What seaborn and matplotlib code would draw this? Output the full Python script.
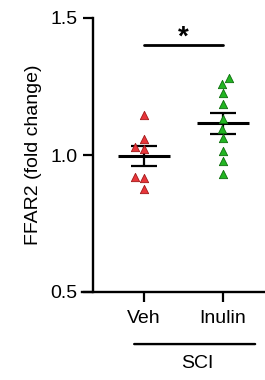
import numpy as np
import pandas as pd
import matplotlib
matplotlib.use("Agg")
import matplotlib.pyplot as plt
import seaborn as sns

# values
groups = ["Veh", "Inulin"]
veh_values = [1.146, 1.058, 1.029, 1.022, 0.920, 0.916, 0.876]
inulin_values = [1.281, 1.259, 1.226, 1.186, 1.131, 1.095, 1.062, 1.015, 0.978, 0.931]
group_colors = ["#e8353a", "#22b522"]
edge_colors = ["#a01818", "#0d6e0d"]
yticks = [0.5, 1.0, 1.5]

data = pd.DataFrame({
    "group": ["Veh"] * len(veh_values) + ["Inulin"] * len(inulin_values),
    "value": veh_values + inulin_values,
})

sns.set_style("ticks")
plt.rcParams["font.family"] = ["Liberation Sans", "DejaVu Sans"]
plt.rcParams["text.color"] = "black"
plt.rcParams["axes.labelcolor"] = "black"

fig = plt.figure(figsize=(2.65, 3.8), dpi=100)
ax = fig.add_axes([93 / 265, 88 / 380, 1 - 93 / 265, 274 / 380])

# mean and SEM lines
for i, g in enumerate(groups):
    vals = np.array(data.loc[data["group"] == g, "value"])
    m = vals.mean()
    sem = vals.std(ddof=1) / np.sqrt(len(vals))
    ax.hlines(m, i - 0.33, i + 0.33, color="black", lw=2.2, zorder=2)
    ax.hlines([m - sem, m + sem], i - 0.16, i + 0.16, color="black", lw=1.6, zorder=2)
    ax.vlines(i, m - sem, m + sem, color="black", lw=1.6, zorder=2)

for i, g in enumerate(groups):
    sub = data.copy()
    sub.loc[sub["group"] != g, "value"] = np.nan
    sns.swarmplot(data=sub, x="group", y="value", order=groups, ax=ax,
                  marker="^", size=6, color=group_colors[i],
                  edgecolor=edge_colors[i], linewidth=0.6, zorder=3)

ax.set_ylim(0.5, 1.5)
ax.set_xlim(-0.646, 1.53)
ax.set_yticks(yticks)
ax.set_yticklabels([f"{t:.1f}" for t in yticks])
ax.set_xlabel("")
ax.set_ylabel("FFAR2 (fold change)", fontsize=14, labelpad=6, color="black")
ax.tick_params(axis="both", length=7, width=1.6, labelsize=14, pad=4, colors="black")
ax.tick_params(axis="x", pad=6)
for s in ["top", "right"]:
    ax.spines[s].set_visible(False)
for s in ["left", "bottom"]:
    ax.spines[s].set_linewidth(1.7)
    ax.spines[s].set_color("black")
ax.spines["bottom"].set_bounds(-0.785, 1.53)

# significance bar
ax.plot([0, 1], [1.402, 1.402], color="black", lw=2, clip_on=False)
ax.text(0.5, 1.43, "*", ha="center", va="center", fontsize=20, fontweight="bold",
        color="black")

# SCI group label
ax.annotate("", xy=(-0.16, -0.19), xytext=(1.44, -0.19), xycoords=("data", "axes fraction"),
            arrowprops=dict(arrowstyle="-", lw=1.7, color="black"))
ax.text(0.67, -0.23, "SCI", transform=ax.get_xaxis_transform(), ha="center", va="top",
        fontsize=14, color="black")

fig.savefig("out.png", dpi=100)
